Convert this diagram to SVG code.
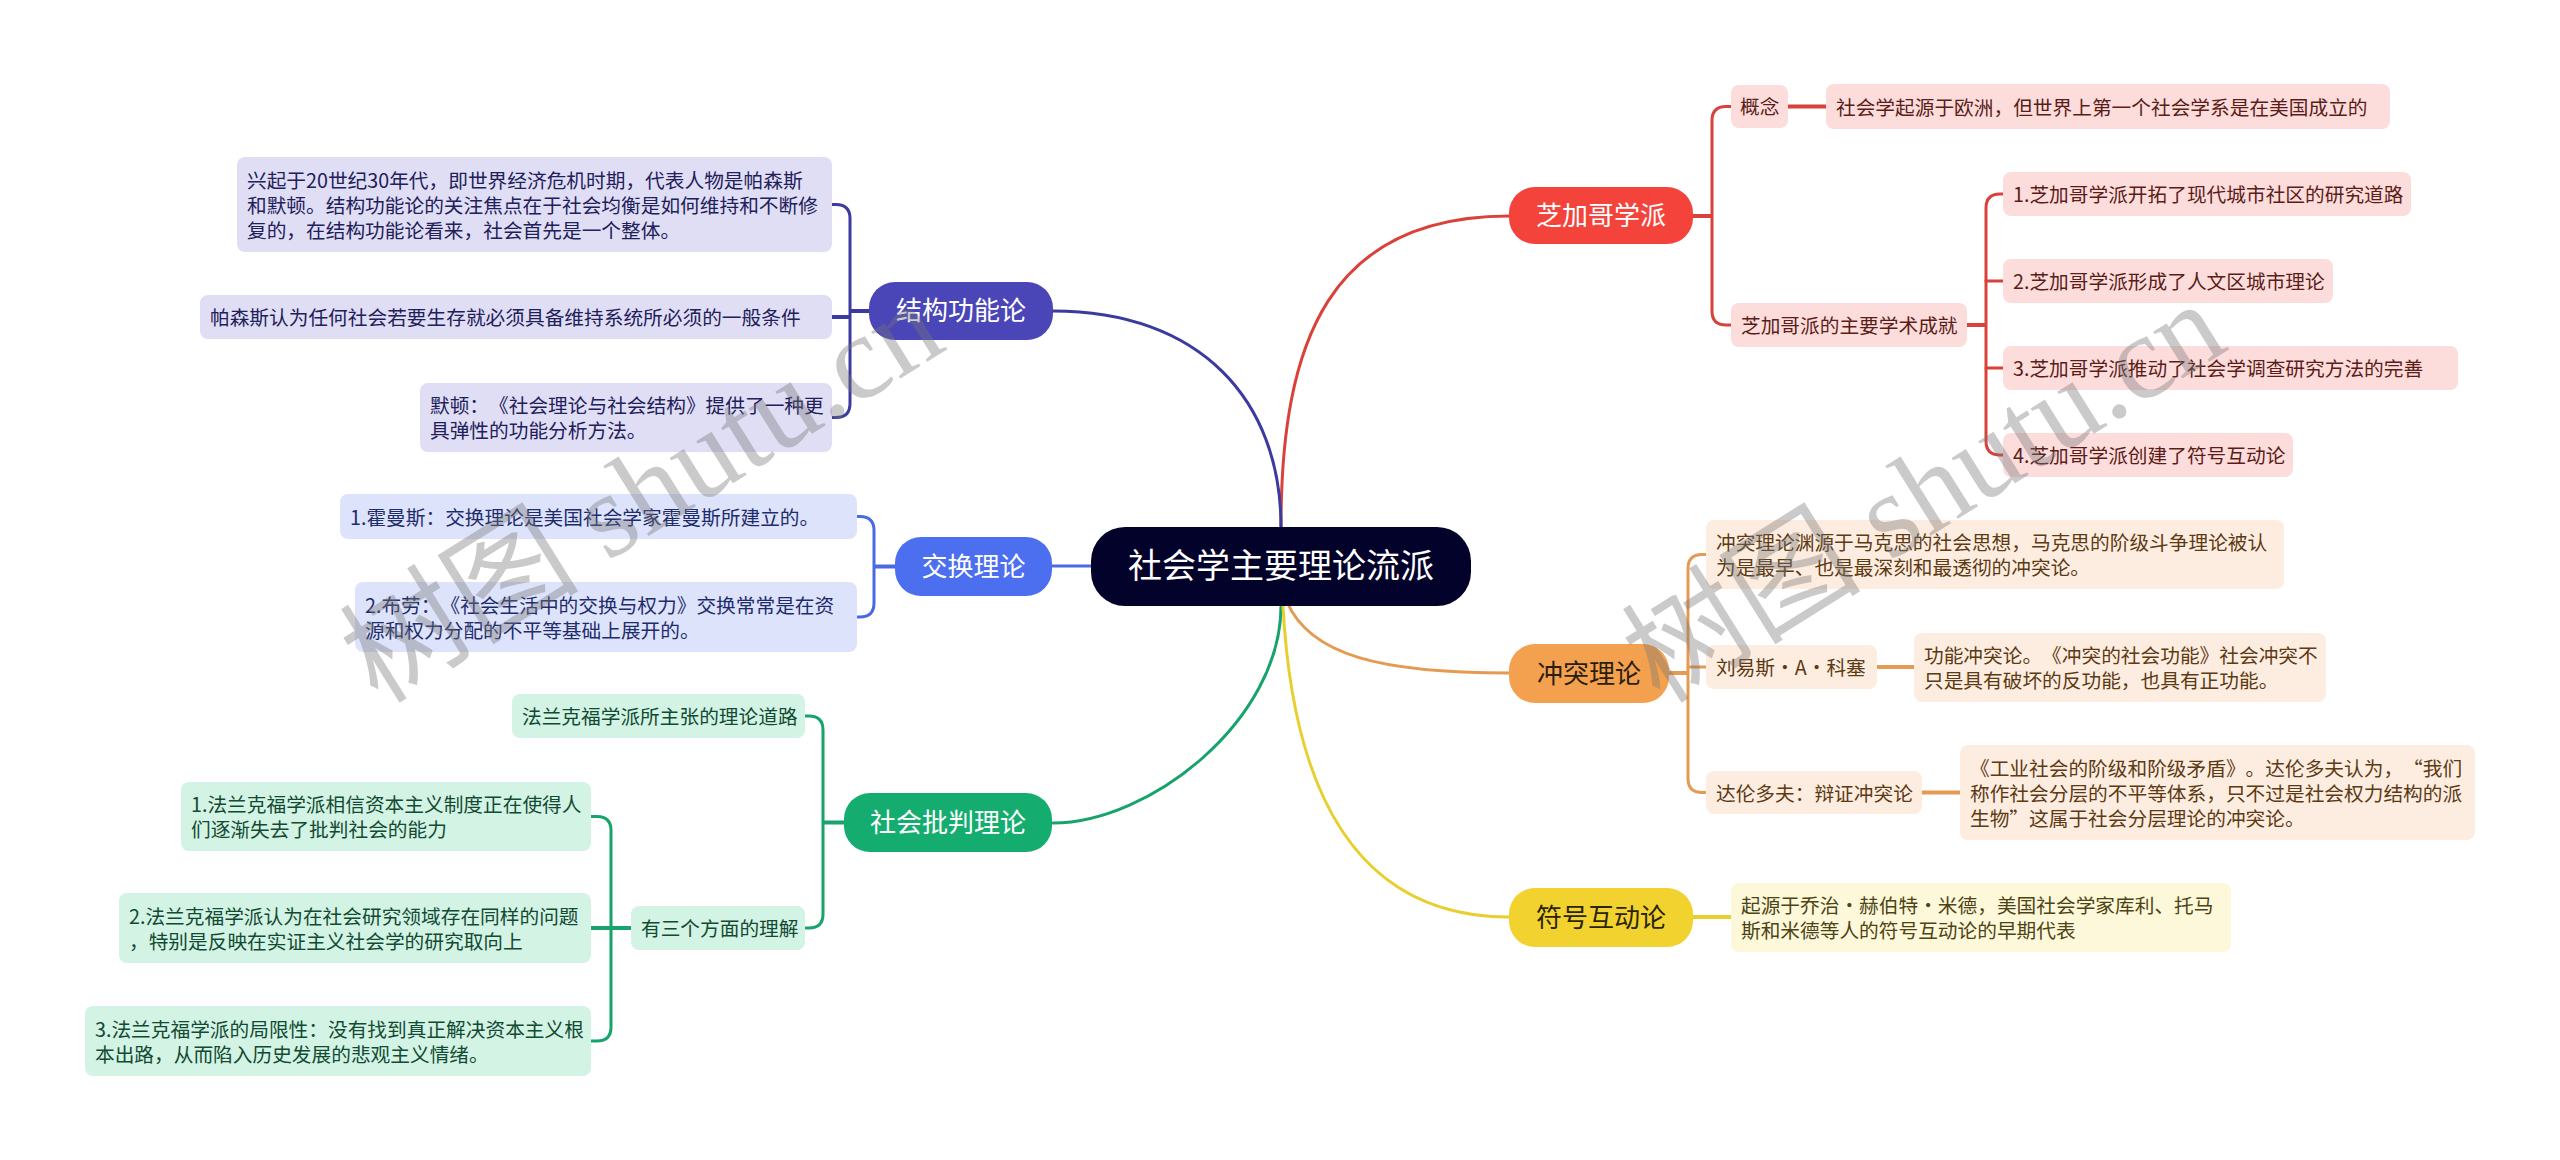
<svg xmlns="http://www.w3.org/2000/svg" width="2560" height="1160" viewBox="0 0 2560 1160">
<style>
text{font-family:"Noto Sans CJK SC","Noto Sans",sans-serif;text-spacing-trim:space-all;}
.leaf{font-size:19.7px;}
.l1{font-size:26px;text-anchor:middle;}
.root{font-size:34px;text-anchor:middle;fill:#ffffff;}
.wm{font-family:"Liberation Serif","Noto Sans CJK SC",serif;font-size:120px;fill:#777777;opacity:0.38;}
.c{fill:none;stroke-width:3;stroke-linecap:round;}
.s{fill:none;stroke-width:4;}
.red{stroke:#d9423a;}
.ora{stroke:#e59a52;}
.yel{stroke:#e8cf2e;}
.ind{stroke:#3b3a9e;}
.blu{stroke:#4a6ae4;}
.grn{stroke:#17a36b;}
.fr{fill:#fddcdc;} .tr{fill:#5a1d18;}
.fo{fill:#fdede0;} .to{fill:#5c3a14;}
.fy{fill:#fdf8da;} .ty{fill:#4e4314;}
.fp{fill:#dfdef4;} .tp{fill:#22205a;}
.fb{fill:#dde3fb;} .tb{fill:#1f2c6b;}
.fg{fill:#d3f3e4;} .tg{fill:#124a33;}
</style>

<g id="connectors">
  <path class="c red" d="M1281,545 L1281,527 C1281,340 1330,216 1509,216"/>
  <path class="c ind" d="M1281,545 L1281,527 C1281,400 1200,311 1053,311"/>
  <path class="c blu" d="M1091,566 L1052,566"/>
  <path class="c ora" d="M1286,590 L1287,602 C1310,655 1380,673 1509,673"/>
  <path class="c grn" d="M1281,590 L1281,606 C1281,720 1150,823 1053,823"/>
  <path class="c yel" d="M1283,590 L1283,606 C1294,813 1370,917 1509,917"/>

  <path class="s red" d="M1693,216 H1712"/>
  <path class="c red" d="M1731,106.5 H1726 Q1712,106.5 1712,120.5 V311 Q1712,325 1726,325 H1731"/>
  <path class="s red" d="M1788,106.5 H1826"/>
  <path class="s red" d="M1967,325 H1986"/>
  <path class="c red" d="M2003,194 H2000 Q1986,194 1986,208 V441 Q1986,455 2000,455 H2003"/>
  <path class="c red" d="M1986,281 H2003 M1986,368 H2003"/>

  <path class="s ora" d="M1669,673 H1688"/>
  <path class="c ora" d="M1706,554.5 H1702 Q1688,554.5 1688,568.5 V778.5 Q1688,792.5 1702,792.5 H1706"/>
  <path class="c ora" d="M1688,667 H1706"/>
  <path class="s ora" d="M1877,667 H1914"/>
  <path class="s ora" d="M1922,792.5 H1960"/>

  <path class="s yel" d="M1693,917 H1731"/>

  <path class="s ind" d="M869,311 H850"/>
  <path class="c ind" d="M832,204.5 H836 Q850,204.5 850,218.5 V403.5 Q850,417.5 836,417.5 H832"/>
  <path class="s ind" d="M850,317 H832"/>

  <path class="s blu" d="M895,566.5 H874"/>
  <path class="c blu" d="M857,516.5 H860 Q874,516.5 874,530.5 V603 Q874,617 860,617 H857"/>

  <path class="s grn" d="M844,822.5 H823"/>
  <path class="c grn" d="M805,716 H809 Q823,716 823,730 V914 Q823,928 809,928 H805"/>
  <path class="s grn" d="M631,928 H591"/>
  <path class="c grn" d="M591,816.5 H597 Q611,816.5 611,830.5 V1027 Q611,1041 597,1041 H591"/>
</g>

<g id="root">
  <rect x="1091" y="527" width="380" height="79" rx="34" fill="#02022a"/>
  <text class="root" x="1281" y="578">社会学主要理论流派</text>
</g>

<g id="chicago">
  <rect x="1509" y="187" width="184" height="57" rx="26" fill="#f4433a"/>
  <text class="l1" x="1601" y="225" fill="#ffffff">芝加哥学派</text>
</g>
<g id="gainian">
  <rect class="fr" x="1731" y="85" width="57" height="43" rx="8"/>
  <text class="leaf tr" x="1740" y="114">概念</text>
</g>
<g id="gainian-text">
  <rect class="fr" x="1826" y="84" width="564" height="45" rx="8"/>
  <text class="leaf tr" x="1836" y="114.5">社会学起源于欧洲，但世界上第一个社会学系是在美国成立的</text>
</g>
<g id="chengjiu">
  <rect class="fr" x="1731" y="303" width="236" height="44" rx="8"/>
  <text class="leaf tr" x="1741" y="333">芝加哥派的主要学术成就</text>
</g>
<g id="chengjiu-1">
  <rect class="fr" x="2003" y="172" width="408" height="44" rx="8"/>
  <text class="leaf tr" x="2013" y="202">1.芝加哥学派开拓了现代城市社区的研究道路</text>
</g>
<g id="chengjiu-2">
  <rect class="fr" x="2003" y="259" width="330" height="44" rx="8"/>
  <text class="leaf tr" x="2013" y="289">2.芝加哥学派形成了人文区城市理论</text>
</g>
<g id="chengjiu-3">
  <rect class="fr" x="2003" y="346" width="455" height="44" rx="8"/>
  <text class="leaf tr" x="2013" y="376">3.芝加哥学派推动了社会学调查研究方法的完善</text>
</g>
<g id="chengjiu-4">
  <rect class="fr" x="2003" y="433" width="290" height="44" rx="8"/>
  <text class="leaf tr" x="2013" y="463">4.芝加哥学派创建了符号互动论</text>
</g>

<g id="conflict">
  <rect x="1509" y="644" width="160" height="59" rx="26" fill="#f3a14f"/>
  <text class="l1" x="1589" y="683" fill="#2b1d0e">冲突理论</text>
</g>
<g id="conflict-origin">
  <rect class="fo" x="1706" y="520" width="578" height="69" rx="8"/>
  <text class="leaf to" x="1716" y="550">冲突理论渊源于马克思的社会思想，马克思的阶级斗争理论被认</text>
  <text class="leaf to" x="1716" y="575">为是最早、也是最深刻和最透彻的冲突论。</text>
</g>
<g id="coser">
  <rect class="fo" x="1706" y="645" width="171" height="44" rx="8"/>
  <text class="leaf to" x="1716" y="675">刘易斯·A·科塞</text>
</g>
<g id="coser-text">
  <rect class="fo" x="1914" y="633" width="412" height="69" rx="8"/>
  <text class="leaf to" x="1924" y="663">功能冲突论。《冲突的社会功能》社会冲突不</text>
  <text class="leaf to" x="1924" y="688">只是具有破坏的反功能，也具有正功能。</text>
</g>
<g id="dahrendorf">
  <rect class="fo" x="1706" y="771" width="216" height="43" rx="8"/>
  <text class="leaf to" x="1716" y="800.5">达伦多夫：辩证冲突论</text>
</g>
<g id="dahrendorf-text">
  <rect class="fo" x="1960" y="745" width="515" height="95" rx="8"/>
  <text class="leaf to" x="1970" y="775.5">《工业社会的阶级和阶级矛盾》。达伦多夫认为，“我们</text>
  <text class="leaf to" x="1970" y="800.5">称作社会分层的不平等体系，只不过是社会权力结构的派</text>
  <text class="leaf to" x="1970" y="825.5">生物”这属于社会分层理论的冲突论。</text>
</g>

<g id="symbolic">
  <rect x="1509" y="888" width="184" height="59" rx="26" fill="#f2d22e"/>
  <text class="l1" x="1601" y="927" fill="#2b2408">符号互动论</text>
</g>
<g id="symbolic-text">
  <rect class="fy" x="1731" y="883" width="500" height="69" rx="8"/>
  <text class="leaf ty" x="1741" y="913">起源于乔治·赫伯特·米德，美国社会学家库利、托马</text>
  <text class="leaf ty" x="1741" y="938">斯和米德等人的符号互动论的早期代表</text>
</g>

<g id="structural">
  <rect x="869" y="282" width="184" height="58" rx="26" fill="#4a46b8"/>
  <text class="l1" x="961" y="320" fill="#ffffff">结构功能论</text>
</g>
<g id="structural-1">
  <rect class="fp" x="237" y="157" width="595" height="95" rx="8"/>
  <text class="leaf tp" x="247" y="187.5">兴起于20世纪30年代，即世界经济危机时期，代表人物是帕森斯</text>
  <text class="leaf tp" x="247" y="212.5">和默顿。结构功能论的关注焦点在于社会均衡是如何维持和不断修</text>
  <text class="leaf tp" x="247" y="237.5">复的，在结构功能论看来，社会首先是一个整体。</text>
</g>
<g id="structural-2">
  <rect class="fp" x="200" y="295" width="632" height="44" rx="8"/>
  <text class="leaf tp" x="210" y="325">帕森斯认为任何社会若要生存就必须具备维持系统所必须的一般条件</text>
</g>
<g id="structural-3">
  <rect class="fp" x="420" y="383" width="412" height="69" rx="8"/>
  <text class="leaf tp" x="430" y="413">默顿：《社会理论与社会结构》提供了一种更</text>
  <text class="leaf tp" x="430" y="438">具弹性的功能分析方法。</text>
</g>

<g id="exchange">
  <rect x="895" y="537" width="157" height="59" rx="26" fill="#4c6ff0"/>
  <text class="l1" x="973.5" y="576" fill="#ffffff">交换理论</text>
</g>
<g id="exchange-1">
  <rect class="fb" x="340" y="494" width="517" height="45" rx="8"/>
  <text class="leaf tb" x="350" y="524.5">1.霍曼斯：交换理论是美国社会学家霍曼斯所建立的。</text>
</g>
<g id="exchange-2">
  <rect class="fb" x="355" y="582" width="502" height="70" rx="8"/>
  <text class="leaf tb" x="365" y="612.5">2.布劳：《社会生活中的交换与权力》交换常常是在资</text>
  <text class="leaf tb" x="365" y="637.5">源和权力分配的不平等基础上展开的。</text>
</g>

<g id="critical">
  <rect x="844" y="793" width="208" height="59" rx="26" fill="#15ad6f"/>
  <text class="l1" x="948" y="832" fill="#ffffff">社会批判理论</text>
</g>
<g id="frankfurt">
  <rect class="fg" x="512" y="694" width="293" height="44" rx="8"/>
  <text class="leaf tg" x="522" y="724">法兰克福学派所主张的理论道路</text>
</g>
<g id="three">
  <rect class="fg" x="631" y="906" width="174" height="44" rx="8"/>
  <text class="leaf tg" x="641" y="936">有三个方面的理解</text>
</g>
<g id="three-1">
  <rect class="fg" x="181" y="782" width="410" height="69" rx="8"/>
  <text class="leaf tg" x="191" y="812">1.法兰克福学派相信资本主义制度正在使得人</text>
  <text class="leaf tg" x="191" y="837">们逐渐失去了批判社会的能力</text>
</g>
<g id="three-2">
  <rect class="fg" x="119" y="893" width="472" height="70" rx="8"/>
  <text class="leaf tg" x="129" y="923.5">2.法兰克福学派认为在社会研究领域存在同样的问题</text>
  <text class="leaf tg" x="129" y="948.5">，特别是反映在实证主义社会学的研究取向上</text>
</g>
<g id="three-3">
  <rect class="fg" x="85" y="1006" width="506" height="70" rx="8"/>
  <text class="leaf tg" x="95" y="1036.5">3.法兰克福学派的局限性：没有找到真正解决资本主义根</text>
  <text class="leaf tg" x="95" y="1061.5">本出路，从而陷入历史发展的悲观主义情绪。</text>
</g>

<g id="watermarks">
  <text class="wm" x="378" y="705" transform="rotate(-32 378 705)">树图 shutu.cn</text>
  <text class="wm" x="1660" y="705" transform="rotate(-32 1660 705)">树图 shutu.cn</text>
</g>
</svg>
